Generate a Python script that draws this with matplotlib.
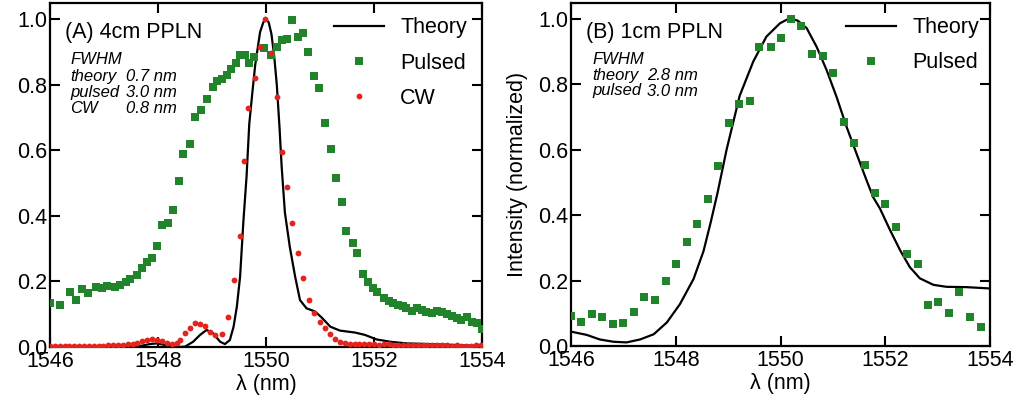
import numpy as np
import matplotlib.pyplot as plt

plt.rcParams['font.family'] = ['Liberation Sans', 'DejaVu Sans']

# ---- panel A: 4cm PPLN ----
a_pulsed_wl = [1546.00, 1546.19, 1546.37, 1546.48, 1546.59, 1546.71, 1546.86, 1546.96, 1547.06, 1547.20,
               1547.30, 1547.40, 1547.49, 1547.61, 1547.71, 1547.79, 1547.89, 1547.99, 1548.08, 1548.19,
               1548.28, 1548.39, 1548.47, 1548.59, 1548.69, 1548.80, 1548.90, 1549.01, 1549.09, 1549.18,
               1549.27, 1549.35, 1549.44, 1549.52, 1549.61, 1549.69, 1549.78, 1549.97, 1550.09, 1550.20,
               1550.29, 1550.39, 1550.49, 1550.60, 1550.69, 1550.78, 1550.89, 1550.99, 1551.09, 1551.20,
               1551.30, 1551.40, 1551.49, 1551.61, 1551.69, 1551.80, 1551.89, 1551.98, 1552.06, 1552.19,
               1552.27, 1552.36, 1552.45, 1552.54, 1552.60, 1552.70, 1552.79, 1552.88, 1552.97, 1553.07,
               1553.16, 1553.25, 1553.35, 1553.44, 1553.53, 1553.62, 1553.72, 1553.81, 1553.90, 1554.00]
a_pulsed = [0.135, 0.128, 0.169, 0.143, 0.176, 0.164, 0.182, 0.179, 0.186, 0.182,
            0.189, 0.199, 0.206, 0.220, 0.240, 0.260, 0.270, 0.309, 0.372, 0.379,
            0.418, 0.505, 0.590, 0.619, 0.700, 0.724, 0.755, 0.793, 0.811, 0.816,
            0.829, 0.847, 0.867, 0.891, 0.890, 0.865, 0.884, 0.911, 0.890, 0.916,
            0.936, 0.938, 0.997, 0.945, 0.959, 0.901, 0.826, 0.791, 0.682, 0.604,
            0.514, 0.443, 0.355, 0.318, 0.288, 0.224, 0.199, 0.179, 0.169, 0.148,
            0.141, 0.135, 0.128, 0.125, 0.118, 0.111, 0.118, 0.113, 0.108, 0.105,
            0.110, 0.108, 0.101, 0.095, 0.087, 0.082, 0.092, 0.077, 0.074, 0.054]

a_cw_wl = [1546.00, 1546.09, 1546.18, 1546.27, 1546.36, 1546.45, 1546.54, 1546.63, 1546.72, 1546.81,
           1546.90, 1546.99, 1547.08, 1547.17, 1547.26, 1547.35, 1547.44, 1547.53, 1547.62, 1547.71,
           1547.79, 1547.88, 1547.98, 1548.07, 1548.16, 1548.25, 1548.35, 1548.41, 1548.50, 1548.59,
           1548.69, 1548.78, 1548.87, 1548.96, 1549.06, 1549.18, 1549.30, 1549.40, 1549.51, 1549.59,
           1549.67, 1549.80, 1549.89, 1549.99, 1550.09, 1550.20, 1550.29, 1550.39, 1550.49, 1550.60,
           1550.69, 1550.80, 1550.89, 1551.00, 1551.09, 1551.19, 1551.28, 1551.37, 1551.46, 1551.55,
           1551.64, 1551.73, 1551.82, 1551.91, 1552.00, 1552.09, 1552.18, 1552.27, 1552.36, 1552.45,
           1552.54, 1552.63, 1552.72, 1552.81, 1552.90, 1552.99, 1553.08, 1553.17, 1553.26, 1553.35,
           1553.44, 1553.53, 1553.62, 1553.71, 1553.80, 1553.89, 1553.98]
a_cw = [0.003, 0.002, 0.003, 0.002, 0.003, 0.002, 0.002, 0.003, 0.002, 0.003,
        0.003, 0.004, 0.005, 0.006, 0.006, 0.007, 0.008, 0.010, 0.013, 0.018,
        0.021, 0.024, 0.022, 0.017, 0.012, 0.008, 0.012, 0.021, 0.042, 0.057,
        0.072, 0.070, 0.063, 0.047, 0.037, 0.040, 0.092, 0.204, 0.338, 0.567,
        0.728, 0.819, 0.916, 0.999, 0.898, 0.761, 0.595, 0.488, 0.377, 0.288,
        0.211, 0.143, 0.105, 0.077, 0.057, 0.040, 0.023, 0.014, 0.011, 0.009,
        0.008, 0.008, 0.009, 0.008, 0.008, 0.007, 0.008, 0.008, 0.007, 0.007,
        0.006, 0.007, 0.006, 0.006, 0.006, 0.005, 0.006, 0.005, 0.005, 0.005,
        0.004, 0.005, 0.004, 0.004, 0.004, 0.005, 0.006]

a_theory_wl = [1546.0, 1546.5, 1547.0, 1547.4, 1547.7, 1547.85, 1547.98, 1548.16, 1548.35, 1548.5,
               1548.65, 1548.78, 1548.9, 1549.02, 1549.15, 1549.24, 1549.33, 1549.40, 1549.46, 1549.52,
               1549.58, 1549.64, 1549.69, 1549.75, 1549.80, 1549.89, 1549.95, 1550.0, 1550.05, 1550.10,
               1550.15, 1550.20, 1550.25, 1550.29, 1550.35, 1550.44, 1550.54, 1550.63, 1550.75, 1550.91,
               1551.03, 1551.19, 1551.37, 1551.65, 1551.83, 1552.05, 1552.3, 1552.6, 1553.2, 1554.0]
a_theory = [0.0, 0.0, 0.001, 0.002, 0.004, 0.009, 0.011, 0.005, 0.0, 0.001,
            0.016, 0.037, 0.052, 0.042, 0.016, 0.009, 0.021, 0.062, 0.123, 0.214,
            0.38, 0.52, 0.68, 0.78, 0.86, 0.96, 0.99, 1.0, 0.99, 0.955,
            0.89, 0.80, 0.67, 0.55, 0.41, 0.306, 0.214, 0.143, 0.118, 0.108,
            0.090, 0.062, 0.050, 0.044, 0.037, 0.023, 0.016, 0.011, 0.008, 0.003]

# ---- panel B: 1cm PPLN ----
b_pulsed_wl = [1546.0, 1546.2, 1546.41, 1546.6, 1546.81, 1547.0, 1547.2, 1547.4, 1547.6, 1547.81,
               1548.0, 1548.21, 1548.41, 1548.61, 1548.81, 1549.01, 1549.21, 1549.41, 1549.59, 1549.81,
               1550.0, 1550.2, 1550.4, 1550.61, 1550.82, 1551.01, 1551.21, 1551.41, 1551.61, 1551.81,
               1552.0, 1552.2, 1552.41, 1552.62, 1552.82, 1553.01, 1553.21, 1553.41, 1553.61, 1553.82]
b_pulsed = [0.092, 0.074, 0.097, 0.090, 0.067, 0.069, 0.105, 0.151, 0.141, 0.199,
            0.251, 0.319, 0.373, 0.449, 0.551, 0.683, 0.740, 0.749, 0.913, 0.913,
            0.943, 0.999, 0.979, 0.893, 0.887, 0.834, 0.686, 0.620, 0.554, 0.469,
            0.433, 0.363, 0.281, 0.251, 0.125, 0.135, 0.102, 0.166, 0.090, 0.057]

b_theory_wl = [1546.0, 1546.3, 1546.55, 1546.81, 1547.06, 1547.32, 1547.58, 1547.83, 1548.08, 1548.34,
               1548.53, 1548.67, 1548.8, 1548.97, 1549.22, 1549.48, 1549.73, 1549.99, 1550.12, 1550.22,
               1550.33, 1550.50, 1550.69, 1550.88, 1551.07, 1551.26, 1551.45, 1551.64, 1551.77, 1551.90,
               1552.09, 1552.28, 1552.47, 1552.66, 1552.92, 1553.17, 1553.55, 1554.0]
b_theory = [0.044, 0.034, 0.020, 0.013, 0.011, 0.020, 0.036, 0.072, 0.128, 0.205,
            0.29, 0.38, 0.47, 0.60, 0.765, 0.87, 0.946, 0.987, 0.998, 1.0,
            0.995, 0.972, 0.915, 0.844, 0.762, 0.671, 0.589, 0.508, 0.455, 0.42,
            0.355, 0.294, 0.241, 0.207, 0.187, 0.181, 0.180, 0.176]

green = '#21842b'
red = '#e5231d'
fs = 15.5

fig = plt.figure(figsize=(10.18, 4.08), dpi=100)
ax1 = fig.add_axes([50 / 1018, 1 - 347 / 408, 432 / 1018, 344 / 408])
ax2 = fig.add_axes([571 / 1018, 1 - 346 / 408, 419 / 1018, 343 / 408])

for ax in (ax1, ax2):
    ax.set_xlim(1546, 1554)
    ax.set_xticks([1546, 1548, 1550, 1552, 1554])
    ax.set_yticks([0.0, 0.2, 0.4, 0.6, 0.8, 1.0])
    ax.set_yticklabels(['0.0', '0.2', '0.4', '0.6', '0.8', '1.0'])
    ax.tick_params(direction='in', top=True, right=True, length=7, width=1.5,
                   labelsize=fs, pad=2)
    ax.tick_params(axis='x', pad=3)
    for s in ax.spines.values():
        s.set_linewidth(1.6)
    ax.set_xlabel('λ (nm)', fontsize=fs, labelpad=1)

ax1.set_ylim(0, 1.049)
ax2.set_ylim(0, 1.049)

ax1.plot(a_theory_wl, a_theory, color='black', lw=1.6, label='Theory', zorder=2)
ax1.plot(a_pulsed_wl, a_pulsed, 's', color=green, ms=6.3, mew=0, label='Pulsed', zorder=3)
ax1.plot(a_cw_wl, a_cw, 'o', color=red, ms=4.2, mew=0, label='CW', zorder=4)

ax2.plot(b_theory_wl, b_theory, color='black', lw=1.6, label='Theory', zorder=2)
ax2.plot(b_pulsed_wl, b_pulsed, 's', color=green, ms=6.3, mew=0, label='Pulsed', zorder=3)

ax2.set_ylabel('Intensity (normalized)', fontsize=fs, labelpad=7)

for ax, anchor in ((ax1, (0.965, 0.959)), (ax2, (0.974, 0.959))):
    ax.legend(loc='upper right', bbox_to_anchor=anchor, frameon=False, fontsize=fs,
              handlelength=2.33, handletextpad=0.75, labelspacing=0.67, numpoints=1,
              borderpad=0, borderaxespad=0)

ax1.text(0.035, 0.915, '(A) 4cm PPLN', transform=ax1.transAxes, fontsize=fs, va='center')
ax2.text(0.036, 0.915, '(B) 1cm PPLN', transform=ax2.transAxes, fontsize=fs, va='center')

fw = 12
a_rows = [('FWHM', ''), ('theory', '0.7 nm'), ('pulsed', '3.0 nm'), ('CW', '0.8 nm')]
for i, (k, v) in enumerate(a_rows):
    y = 1 - (60 + 16.2 * i - 3) / 344
    ax1.text(20 / 432, y, k, transform=ax1.transAxes, fontsize=fw, style='italic', va='center')
    ax1.text(76 / 432, y, v, transform=ax1.transAxes, fontsize=fw, style='italic', va='center')

b_rows = [('FWHM', ''), ('theory', '2.8 nm'), ('pulsed', '3.0 nm')]
for i, (k, v) in enumerate(b_rows):
    y = 1 - (60 + 15.5 * i - 3) / 343
    ax2.text(21 / 419, y, k, transform=ax2.transAxes, fontsize=fw, style='italic', va='center')
    ax2.text(76 / 419, y, v, transform=ax2.transAxes, fontsize=fw, style='italic', va='center')

fig.savefig('out.png', dpi=100)
